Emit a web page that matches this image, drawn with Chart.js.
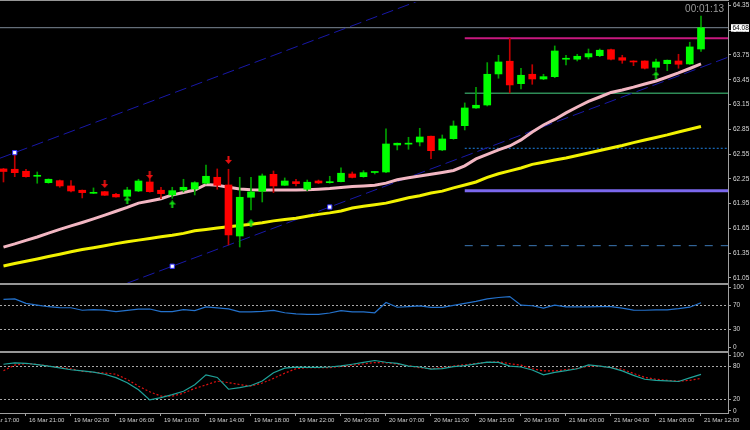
<!DOCTYPE html>
<html>
<head>
<meta charset="utf-8">
<script src="https://cdn.jsdelivr.net/npm/chart.js@4.4.1/dist/chart.umd.min.js"></script>
<style>
  html, body { margin: 0; padding: 0; background: #000; }
  #wrap { position: relative; width: 750px; height: 430px; overflow: hidden; background: #000; }
  #wrap canvas { position: absolute; left: 0; top: 0; }
  .sep { position: absolute; left: 0; width: 729px; background: #969696; }
</style>
</head>
<body>
<div id="wrap">
  <canvas id="price" width="750" height="430"></canvas>
  <canvas id="rsi" width="750" height="430"></canvas>
  <canvas id="stoch" width="750" height="430"></canvas>
  <div class="sep" style="top:0;height:1px"></div>
  <div class="sep" style="top:283px;height:2px"></div>
  <div class="sep" style="top:351px;height:2px"></div>
</div>
<script>
// H1 candles, bar 0 = leftmost visible, bar 62 = 21 Mar 12:00
const barOpen = [62.370, 62.366, 62.342, 62.281, 62.204, 62.228, 62.164, 62.112, 62.075, 62.095,
  62.063, 62.039, 62.103, 62.212, 62.112, 62.055, 62.115, 62.127, 62.197, 62.269,
  62.176, 61.558, 62.027, 62.100, 62.305, 62.172, 62.216, 62.124, 62.224, 62.204,
  62.216, 62.309, 62.276, 62.327, 62.333, 62.660, 62.670, 62.696, 62.766, 62.600,
  62.736, 62.894, 63.108, 63.144, 63.520, 63.674, 63.402, 63.516, 63.459, 63.487,
  63.698, 63.698, 63.726, 63.741, 63.814, 63.717, 63.677, 63.677, 63.601, 63.644,
  63.677, 63.641, 63.822];
const barHigh = [62.376, 62.567, 62.366, 62.333, 62.249, 62.236, 62.228, 62.115, 62.140, 62.097,
  62.075, 62.148, 62.245, 62.276, 62.148, 62.148, 62.245, 62.216, 62.418, 62.370,
  62.366, 62.269, 62.269, 62.309, 62.345, 62.261, 62.245, 62.236, 62.236, 62.281,
  62.382, 62.333, 62.349, 62.337, 62.854, 62.684, 62.753, 62.862, 62.769, 62.781,
  62.951, 63.169, 63.359, 63.657, 63.746, 63.952, 63.589, 63.632, 63.516, 63.859,
  63.746, 63.758, 63.822, 63.822, 63.822, 63.746, 63.679, 63.679, 63.701, 63.689,
  63.758, 63.904, 64.222];
const barLow = [62.212, 62.276, 62.269, 62.197, 62.197, 62.148, 62.091, 62.019, 62.071, 62.049,
  62.027, 62.022, 62.095, 62.088, 62.010, 62.015, 62.091, 62.055, 62.188, 62.124,
  61.450, 61.425, 61.873, 61.970, 62.083, 62.170, 62.164, 62.107, 62.192, 62.197,
  62.212, 62.261, 62.269, 62.309, 62.325, 62.600, 62.608, 62.648, 62.494, 62.591,
  62.729, 62.842, 63.102, 63.132, 63.468, 63.290, 63.338, 63.395, 63.451, 63.475,
  63.629, 63.677, 63.701, 63.729, 63.689, 63.649, 63.620, 63.580, 63.560, 63.560,
  63.589, 63.635, 63.792];
const barClose = [62.339, 62.325, 62.276, 62.287, 62.245, 62.164, 62.103, 62.083, 62.081, 62.051,
  62.031, 62.115, 62.224, 62.095, 62.071, 62.107, 62.148, 62.204, 62.281, 62.172,
  61.571, 62.027, 62.091, 62.285, 62.164, 62.224, 62.192, 62.209, 62.200, 62.216,
  62.318, 62.267, 62.325, 62.332, 62.672, 62.681, 62.675, 62.757, 62.591, 62.733,
  62.890, 63.108, 63.141, 63.516, 63.665, 63.387, 63.504, 63.459, 63.487, 63.798,
  63.704, 63.734, 63.766, 63.807, 63.698, 63.686, 63.665, 63.589, 63.665, 63.686,
  63.637, 63.847, 64.080];

// moving averages (pink = fast, yellow = slow)
const maFast = [61.423, 61.462, 61.505, 61.546, 61.592, 61.638, 61.680, 61.722, 61.766, 61.811,
  61.858, 61.904, 61.956, 61.982, 62.009, 62.055, 62.085, 62.115, 62.182, 62.172,
  62.148, 62.127, 62.118, 62.115, 62.115, 62.115, 62.115, 62.119, 62.125, 62.132,
  62.146, 62.157, 62.164, 62.172, 62.198, 62.239, 62.263, 62.285, 62.305, 62.327,
  62.351, 62.408, 62.492, 62.545, 62.600, 62.648, 62.721, 62.818, 62.902, 62.969,
  63.048, 63.120, 63.187, 63.241, 63.296, 63.326, 63.360, 63.399, 63.435, 63.483,
  63.532, 63.586, 63.641];
const maSlow = [61.195, 61.224, 61.252, 61.280, 61.309, 61.338, 61.367, 61.394, 61.416, 61.440,
  61.466, 61.489, 61.508, 61.527, 61.548, 61.567, 61.590, 61.621, 61.638, 61.654,
  61.670, 61.686, 61.699, 61.718, 61.741, 61.758, 61.774, 61.797, 61.820, 61.838,
  61.861, 61.897, 61.917, 61.937, 61.956, 61.988, 62.020, 62.046, 62.078, 62.101,
  62.141, 62.176, 62.212, 62.267, 62.312, 62.347, 62.382, 62.425, 62.452, 62.479,
  62.503, 62.533, 62.563, 62.594, 62.624, 62.654, 62.688, 62.721, 62.751, 62.782,
  62.818, 62.850, 62.884];

const rsiValues = [79.9, 80.9, 73.4, 70.4, 67.8, 66.4, 66.1, 61.9, 63.0, 62.1,
  59.7, 61.6, 63.7, 64.0, 59.5, 59.7, 63.0, 61.2, 67.5, 66.0,
  64.2, 59.1, 59.2, 60.0, 61.8, 57.7, 55.8, 55.0, 54.9, 57.3,
  61.2, 59.1, 59.2, 57.7, 74.9, 66.9, 67.9, 69.3, 66.6, 66.6,
  70.0, 73.4, 76.7, 80.9, 83.2, 84.7, 70.4, 69.4, 65.5, 70.4,
  67.5, 67.5, 67.5, 67.9, 67.9, 65.5, 62.2, 61.9, 62.7, 62.5,
  64.5, 67.0, 74.5];

const stochMain = [83.8, 86.3, 85.5, 83.0, 80.5, 77.2, 73.8, 71.8, 69.7, 65.8,
  59.7, 50.5, 37.7, 19.7, 23.8, 29.2, 35.2, 47.0, 64.7, 60.0,
  38.8, 41.7, 45.5, 53.5, 68.5, 76.7, 78.5, 78.2, 78.2, 78.8,
  80.8, 83.8, 87.0, 90.5, 87.3, 85.2, 80.5, 78.8, 75.0, 76.0,
  79.5, 81.3, 84.5, 87.5, 87.2, 80.5, 78.8, 73.5, 64.8, 69.2,
  72.2, 75.7, 82.7, 80.5, 77.8, 71.8, 63.8, 56.8, 54.8, 53.8,
  52.7, 59.2, 65.5];
const stochSignal = [72.2, 82.2, 85.0, 83.5, 80.5, 78.0, 75.5, 71.0, 69.3, 68.0,
  65.7, 56.3, 44.3, 34.2, 26.3, 26.3, 31.8, 40.2, 46.5, 53.3,
  50.7, 47.2, 44.5, 50.0, 58.3, 67.7, 75.7, 77.7, 77.7, 77.7,
  79.8, 82.2, 84.2, 86.8, 86.3, 84.2, 81.2, 77.5, 76.0, 77.5,
  80.5, 82.8, 85.3, 87.2, 88.2, 84.8, 82.2, 75.8, 71.8, 71.8,
  74.0, 76.3, 80.3, 80.5, 77.8, 74.8, 67.2, 60.2, 56.7, 54.8,
  53.3, 54.8, 58.3];

// fractal arrows
const upFractalBars = [9, 13, 20];
const upFractalPrices = [62.188, 62.297, 62.479];
const downFractalBars = [11, 15, 22, 58];
const downFractalPrices = [61.988, 61.940, 61.712, 63.504];

// equidistant channel: anchor 0 on upper line, anchors 1-2 on lower line
const channelBars = [1, 15, 29];
const channelPrices = [62.567, 61.192, 61.909];

// horizontal levels starting at bar 41
const levelPrices = [63.952, 63.286, 62.620, 62.107, 61.441];
const levelStartBar = 41;
const bidPrice = 64.08;
const timerText = '00:01:13';

const priceTicks = [61.05, 61.35, 61.65, 61.95, 62.25, 62.55, 62.85, 63.15, 63.45, 63.75, 64.05, 64.35];
const rsiTicks = [100, 70, 30, 0];
const rsiLevels = [70, 30];
const stochTicks = [100, 80, 20, 0];
const stochLevels = [80, 20];
const timeTickBars = [-2, 2, 6, 10, 14, 18, 22, 26, 30, 34, 38, 42, 46, 50, 54, 58, 62];
const timeLabels = ['16 Mar 17:00', '16 Mar 21:00', '19 Mar 02:00', '19 Mar 06:00', '19 Mar 10:00',
  '19 Mar 14:00', '19 Mar 18:00', '19 Mar 22:00', '20 Mar 03:00', '20 Mar 07:00', '20 Mar 11:00',
  '20 Mar 15:00', '20 Mar 19:00', '21 Mar 00:00', '21 Mar 04:00', '21 Mar 08:00', '21 Mar 12:00'];

// ---- styling / layout ----
const X_MIN = -0.31, X_MAX = 64.4;
const AXIS_W = 22;
const FONT = 'Liberation Sans';
const AXIS_COLOR = '#a0a0a0';
const levelStyles = [
  {color: '#c8197f', width: 2, dash: []},
  {color: '#2e8b57', width: 1.5, dash: []},
  {color: '#1e7fe0', width: 1, dash: [2, 2]},
  {color: '#7b68ee', width: 3, dash: []},
  {color: '#3c78b4', width: 1, dash: [8, 8]}
];

const idx = barOpen.map((_, i) => i);
const isBull = i => barClose[i] >= barOpen[i];
const pts = arr => idx.map(i => ({x: i, y: arr[i]}));

function makeArrow(color, up) {
  const c = document.createElement('canvas');
  c.width = 7; c.height = 8;
  const g = c.getContext('2d');
  g.fillStyle = color;
  g.beginPath();
  if (up) {
    g.moveTo(3.5, 0); g.lineTo(7, 4); g.lineTo(0, 4);
    g.closePath(); g.fill();
    g.fillRect(2.5, 4, 2, 4);
  } else {
    g.fillRect(2.5, 0, 2, 4);
    g.moveTo(0, 4); g.lineTo(7, 4); g.lineTo(3.5, 8);
    g.closePath(); g.fill();
  }
  return c;
}

function fixYAxis(scale) {
  scale.width = AXIS_W;
  scale.paddingTop = 0;
  scale.paddingBottom = 0;
}

function hiddenX() {
  return {type: 'linear', min: X_MIN, max: X_MAX, offset: false, display: false, grid: {offset: false}};
}

function rightAxis(min, max, tickValues, levels, fmt) {
  return {
    position: 'right', min: min, max: max,
    afterBuildTicks: s => { s.ticks = tickValues.map(v => ({value: v})); },
    afterFit: fixYAxis,
    ticks: {color: '#d8d8d8', font: {family: FONT, size: 6.5}, padding: 2, callback: fmt},
    grid: {
      drawOnChartArea: !!levels,
      color: c => (levels && levels.includes(c.tick.value)) ? '#a8a8a8' : 'rgba(0,0,0,0)',
      tickColor: AXIS_COLOR, tickLength: 3
    },
    border: {display: true, color: AXIS_COLOR, width: 1, dash: [2, 2]}
  };
}

// autoPadding off so the plot areas line up exactly with each other
const baseOptions = pad => ({
  responsive: false, animation: false, devicePixelRatio: 1, events: [],
  layout: {autoPadding: false, padding: {top: pad.top, bottom: pad.bottom, left: 0, right: 0}},
  plugins: {legend: {display: false}, tooltip: {enabled: false}}
});

// channel lines
const chSlope = (channelPrices[2] - channelPrices[1]) / (channelBars[2] - channelBars[1]);
const chLine = k => [X_MIN, X_MAX].map(x => ({x: x, y: channelPrices[k] + chSlope * (x - channelBars[k])}));

const overlay = {
  id: 'overlay',
  afterDraw(chart) {
    const {ctx, chartArea, scales} = chart;
    const y = scales.y.getPixelForValue(bidPrice);
    ctx.save();
    ctx.fillStyle = '#ffffff';
    ctx.fillRect(chartArea.right + 3, y - 3.5, 18, 7.5);
    ctx.fillStyle = '#000000';
    ctx.font = '6.5px "' + FONT + '"';
    ctx.textAlign = 'left';
    ctx.textBaseline = 'middle';
    ctx.fillText(bidPrice.toFixed(2), chartArea.right + 4.5, y + 0.5);
    ctx.fillStyle = '#9a9a9a';
    ctx.font = '10px "' + FONT + '"';
    ctx.textAlign = 'right';
    ctx.fillText(timerText, chartArea.right - 4, 9);
    ctx.restore();
  }
};

const priceSets = [];
levelPrices.forEach((p, k) => {
  priceSets.push({type: 'line', data: [{x: levelStartBar, y: p}, {x: X_MAX, y: p}],
    borderColor: levelStyles[k].color, borderWidth: levelStyles[k].width, borderDash: levelStyles[k].dash,
    pointRadius: 0, order: 10});
});
priceSets.push({type: 'line', data: [{x: X_MIN, y: bidPrice}, {x: X_MAX, y: bidPrice}],
  borderColor: '#7c8896', borderWidth: 1, pointRadius: 0, order: 10});
[0, 1].forEach(k => {
  priceSets.push({type: 'line', data: chLine(k), borderColor: '#1818a8', borderWidth: 1,
    borderDash: [12, 5], pointRadius: 0, order: 9});
});
priceSets.push({type: 'line', data: pts(maSlow), borderColor: '#f2f200', borderWidth: 3, pointRadius: 0, order: 5});
priceSets.push({type: 'line', data: pts(maFast), borderColor: '#f2b6c2', borderWidth: 3, pointRadius: 0, order: 5});
priceSets.push({type: 'bar', data: idx.map(i => ({x: i, y: [barLow[i], barHigh[i]]})),
  backgroundColor: idx.map(i => isBull(i) ? '#00a000' : '#c00000'),
  barThickness: 1, grouped: false, order: 3});
priceSets.push({type: 'bar', data: idx.map(i => ({x: i, y: [barOpen[i], barClose[i]]})),
  backgroundColor: idx.map(i => isBull(i) ? '#00ff00' : '#ff0000'),
  barThickness: 7, minBarLength: 1, grouped: false, order: 2});
priceSets.push({type: 'scatter', data: upFractalBars.map((b, k) => ({x: b, y: upFractalPrices[k]})),
  pointStyle: makeArrow('#e81010', false), pointRadius: 4, order: 1});
priceSets.push({type: 'scatter', data: downFractalBars.map((b, k) => ({x: b, y: downFractalPrices[k]})),
  pointStyle: makeArrow('#10d810', true), pointRadius: 4, order: 1});
priceSets.push({type: 'scatter', data: channelBars.map((b, k) => ({x: b, y: channelPrices[k]})),
  pointStyle: 'rect', pointRadius: 3, backgroundColor: '#ffffff', borderColor: '#3030ff',
  borderWidth: 1, order: 1});

new Chart(document.getElementById('price'), {
  type: 'bar',
  data: {datasets: priceSets},
  options: Object.assign(baseOptions({top: 2, bottom: 147}), {
    scales: {
      x: hiddenX(),
      y: rightAxis(60.989, 64.391, priceTicks, null, v => v.toFixed(2))
    }
  }),
  plugins: [overlay]
});

new Chart(document.getElementById('rsi'), {
  type: 'line',
  data: {datasets: [{data: pts(rsiValues), borderColor: '#2472cc', borderWidth: 1.2, pointRadius: 0}]},
  options: Object.assign(baseOptions({top: 285, bottom: 79}), {
    scales: {
      x: hiddenX(),
      y: rightAxis(-6, 104, rsiTicks, rsiLevels, v => String(v))
    }
  })
});

const stochX = {
  type: 'linear', min: X_MIN, max: X_MAX, offset: false, position: 'bottom',
  afterBuildTicks: s => { s.ticks = timeTickBars.map(v => ({value: v})); },
  afterFit: s => { s.height = 17; s.paddingLeft = 0; s.paddingRight = 0; },
  ticks: {autoSkip: false, maxRotation: 0, align: 'start', labelOffset: 3, padding: 1,
    color: '#d0d0d0', font: {family: FONT, size: 6}, callback: (v, k) => timeLabels[k]},
  grid: {drawOnChartArea: false, tickLength: 3, color: AXIS_COLOR, offset: false},
  border: {display: true, color: AXIS_COLOR, width: 1}
};

new Chart(document.getElementById('stoch'), {
  type: 'line',
  data: {datasets: [
    {data: pts(stochMain), borderColor: '#1fa39a', borderWidth: 1.2, pointRadius: 0},
    {data: pts(stochSignal), borderColor: '#e01010', borderWidth: 1.2, borderDash: [2, 2], pointRadius: 0}
  ]},
  options: Object.assign(baseOptions({top: 353, bottom: 0}), {
    scales: {
      x: stochX,
      y: rightAxis(-4, 104, stochTicks, stochLevels, v => String(v))
    }
  })
});
</script>
</body>
</html>
